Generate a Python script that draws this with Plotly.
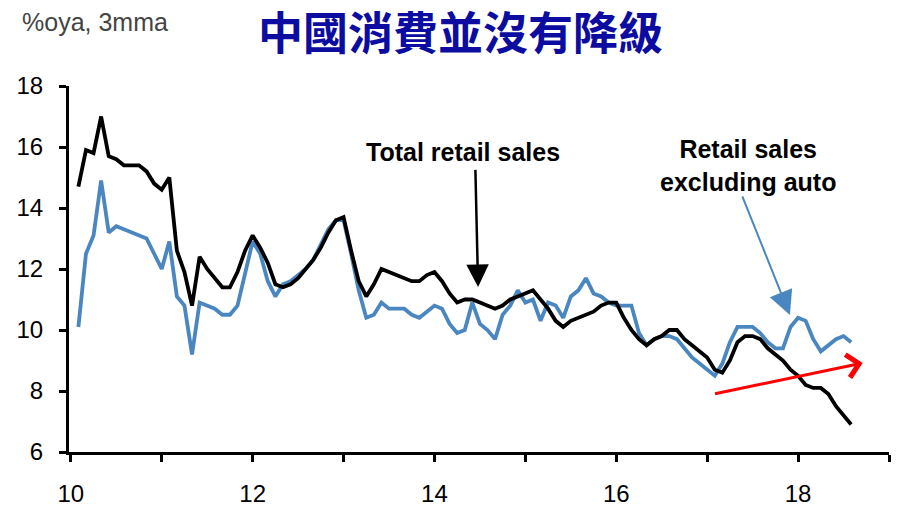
import plotly.graph_objects as go

# Monthly data, Feb 2010 .. Aug 2018 (%oya, 3mma)
start_year = 2010
start_month = 2
total_retail = [
    14.7, 15.9, 15.8, 17.0, 15.7, 15.6, 15.4, 15.4, 15.4, 15.2, 14.8,
    14.6, 15.0, 12.6, 11.9, 10.8, 12.4, 12.0, 11.7, 11.4, 11.4, 11.9, 12.6,
    13.1, 12.7, 12.2, 11.5, 11.4, 11.5, 11.7, 12.0, 12.3, 12.7, 13.2, 13.6,
    13.7, 12.6, 11.6, 11.1, 11.5, 12.0, 11.9, 11.8, 11.7, 11.6, 11.6, 11.8,
    11.9, 11.6, 11.2, 10.9, 11.0, 11.0, 10.9, 10.8, 10.7, 10.8, 11.0, 11.1,
    11.2, 11.3, 11.0, 10.7, 10.3, 10.1, 10.3, 10.4, 10.5, 10.6, 10.8, 10.9,
    10.9, 10.4, 10.0, 9.7, 9.5, 9.7, 9.8, 10.0, 10.0, 9.7, 9.5, 9.3,
    9.1, 8.7, 8.6, 9.0, 9.6, 9.8, 9.8, 9.7, 9.4, 9.2, 9.0, 8.7,
    8.5, 8.2, 8.1, 8.1, 7.9, 7.5, 7.2, 6.9,
]
ex_auto = [
    10.1, 12.5, 13.1, 14.9, 13.2, 13.4, 13.3, 13.2, 13.1, 13.0, 12.5,
    12.0, 12.9, 11.1, 10.8, 9.2, 10.9, 10.8, 10.7, 10.5, 10.5, 10.8, 11.8,
    12.9, 12.5, 11.6, 11.1, 11.5, 11.6, 11.8, 12.0, 12.3, 12.8, 13.3, 13.6,
    13.6, 12.5, 11.3, 10.4, 10.5, 10.9, 10.7, 10.7, 10.7, 10.5, 10.4, 10.6,
    10.8, 10.7, 10.2, 9.9, 10.0, 10.9, 10.2, 10.0, 9.7, 10.5, 10.8, 11.3,
    10.9, 11.0, 10.3, 10.9, 10.8, 10.4, 11.1, 11.3, 11.7, 11.2, 11.1, 10.9,
    10.8, 10.8, 10.8, 9.9, 9.5, 9.7, 9.8, 9.8, 9.7, 9.4, 9.1, 8.9,
    8.7, 8.5, 8.9, 9.6, 10.1, 10.1, 10.1, 9.9, 9.6, 9.4, 9.4, 10.1,
    10.4, 10.3, 9.7, 9.3, 9.5, 9.7, 9.8, 9.6,
]
x_tick_vals = [10, 11, 12, 13, 14, 15, 16, 17, 18, 19]
x_tick_text = ["10", "", "12", "", "14", "", "16", "", "18", ""]
y_tick_vals = [6, 8, 10, 12, 14, 16, 18]

# x as fractional two-digit year
x = [(start_year - 2000) + (start_month - 1 + i) / 12 for i in range(len(total_retail))]

BLUE = "#4a86c0"
SANS = "Liberation Sans, Arial, sans-serif"

fig = go.Figure()
fig.add_trace(go.Scatter(x=x, y=ex_auto, mode="lines",
                         line=dict(color=BLUE, width=3.8), name="Retail sales excluding auto"))
fig.add_trace(go.Scatter(x=x, y=total_retail, mode="lines",
                         line=dict(color="black", width=3.8), name="Total retail sales"))

annos = [
    dict(text="<b>中國消費並沒有降級</b>", xref="paper", yref="paper", x=0.477, y=1.153,
         showarrow=False, font=dict(family="Noto Sans CJK TC", size=45, color="#0c0ca0"),
         xanchor="center", yanchor="middle"),
    dict(text="%oya, 3mma", xref="paper", yref="paper", x=-0.06, y=1.175,
         showarrow=False, font=dict(family=SANS, size=25, color="#444444"),
         xanchor="left", yanchor="middle"),
    dict(text="<b>Total retail sales</b>", xref="x", yref="y", x=14.31, y=15.84,
         showarrow=False, font=dict(family=SANS, size=25, color="black"),
         xanchor="center", yanchor="middle"),
    dict(text="<b>Retail sales<br>excluding auto</b>", xref="x", yref="y", x=17.45, y=15.41,
         showarrow=False, font=dict(family=SANS, size=25, color="black"),
         xanchor="center", yanchor="middle"),
    # black arrow
    dict(text="", xref="x", yref="y", axref="x", ayref="y",
         x=14.48, y=11.41, ax=14.45, ay=15.30,
         showarrow=True, arrowhead=2, arrowsize=1.8, arrowwidth=2.5, arrowcolor="black"),
    # blue arrow
    dict(text="", xref="x", yref="y", axref="x", ayref="y",
         x=17.91, y=10.49, ax=17.38, ay=14.43,
         showarrow=True, arrowhead=2, arrowsize=2.4, arrowwidth=2, arrowcolor=BLUE),
    # red arrow
    dict(text="", xref="x", yref="y", axref="x", ayref="y",
         x=18.71, y=8.92, ax=17.07, ay=7.90,
         showarrow=True, arrowhead=4, arrowsize=1.5, arrowwidth=3, arrowcolor="#ff0000"),
]

# page body has an 8px default margin, so the figure is sized/offset to compensate
fig.update_layout(
    width=894, height=505,
    margin=dict(l=61, r=13, t=78, b=61),
    paper_bgcolor="white", plot_bgcolor="white",
    showlegend=False,
    annotations=annos,
    xaxis=dict(range=[9.98, 19.0], tickvals=x_tick_vals, ticktext=x_tick_text,
               automargin=False,
               showgrid=False, zeroline=False, showline=True, linecolor="black", linewidth=3,
               ticks="outside", ticklen=7, tickwidth=3, tickcolor="black",
               ticklabelstandoff=11,
               tickfont=dict(family=SANS, size=24, color="black")),
    yaxis=dict(range=[6, 18], tickvals=y_tick_vals,
               automargin=False,
               showgrid=False, zeroline=False, showline=True, linecolor="black", linewidth=3,
               ticks="outside", ticklen=7, tickwidth=3, tickcolor="black",
               ticklabelstandoff=11,
               tickfont=dict(family=SANS, size=24, color="black")),
)

fig.write_html("out.html")
